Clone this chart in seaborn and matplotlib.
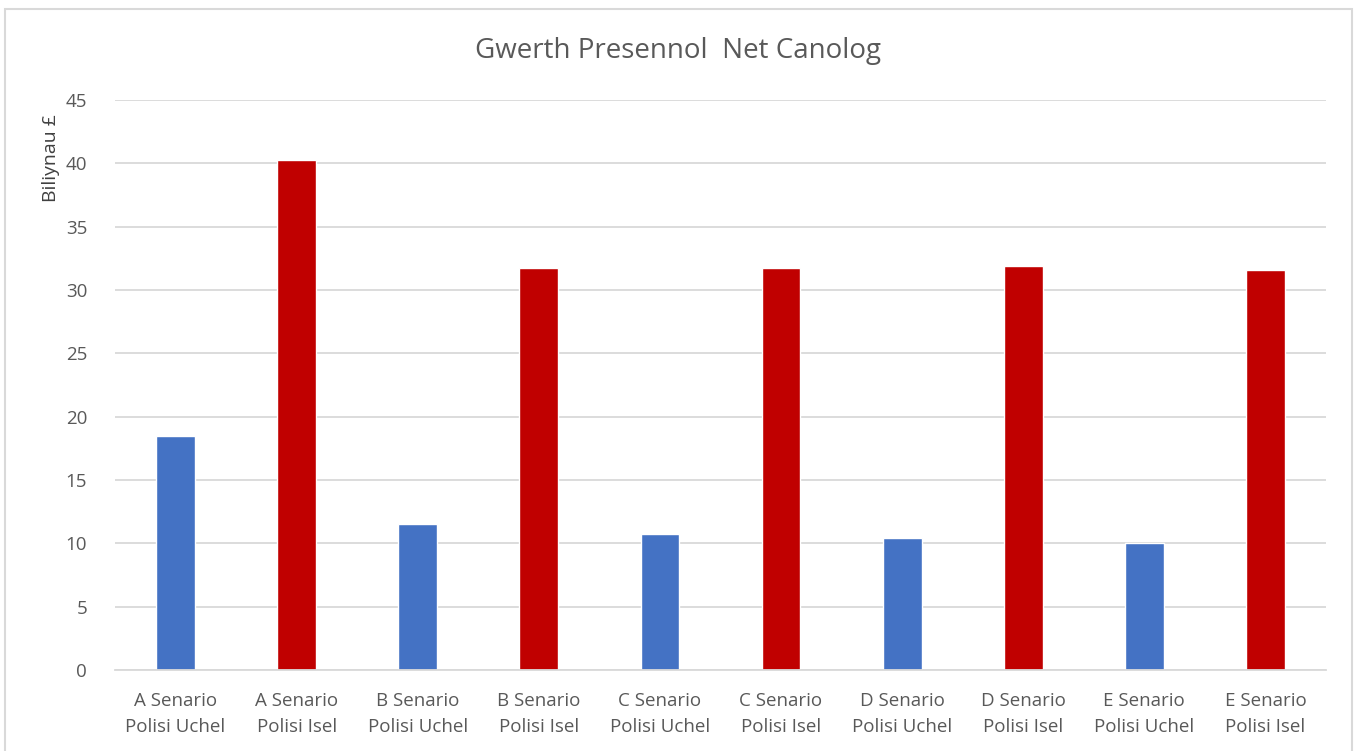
import matplotlib
matplotlib.use("Agg")
import matplotlib.pyplot as plt
import seaborn as sns
from matplotlib.patches import Rectangle

categories = ["A Senario\nPolisi Uchel", "A Senario\nPolisi Isel",
              "B Senario\nPolisi Uchel", "B Senario\nPolisi Isel",
              "C Senario\nPolisi Uchel", "C Senario\nPolisi Isel",
              "D Senario\nPolisi Uchel", "D Senario\nPolisi Isel",
              "E Senario\nPolisi Uchel", "E Senario\nPolisi Isel"]
values = [18.5, 40.25, 11.55, 31.76, 10.7, 31.76, 10.45, 31.9, 10.05, 31.55]
bar_colors = ["#4472C4", "#C00000"] * 5
y_ticks = [0, 5, 10, 15, 20, 25, 30, 35, 40, 45]
title = "Gwerth Presennol  Net Canolog"
y_label = "Biliynau £"

sns.set_theme(style="white")
plt.rcParams['font.family'] = ['Open Sans', 'DejaVu Sans']

fig = plt.figure(figsize=(13.56, 7.51), dpi=100)
ax = fig.add_axes([115/1356, 1 - 670/751, (1326-115)/1356, (670-100)/751])

sns.barplot(x=categories, y=values, hue=categories, palette=bar_colors,
            width=0.32, legend=False, ax=ax, saturation=1)

ax.set_ylim(0, 45)
ax.set_xlim(-0.5, 9.5)
ax.set_yticks(y_ticks)
ax.set_yticklabels([str(t) for t in y_ticks])
ax.grid(axis='y', color='#d9d9d9', linewidth=1.3)
ax.set_axisbelow(True)
for s in ['top', 'right', 'left']:
    ax.spines[s].set_visible(False)
ax.spines['bottom'].set_color('#d9d9d9')
ax.spines['bottom'].set_linewidth(1.3)
ax.tick_params(axis='both', length=0, labelsize=13.5, colors='#595959')
ax.tick_params(axis='x', pad=16)
ax.tick_params(axis='y', pad=20)
for lbl in ax.get_xticklabels():
    lbl.set_linespacing(1.55)
ax.set_xlabel("")
ax.set_ylabel(y_label, fontsize=14, color='#404040')
ax.yaxis.set_label_coords((60 - 115) / 1211, (670 - 158) / 570)
fig.text(0.5, 1 - 51/751, title, fontsize=20, color='#595959',
         ha='center', va='center')

fig.patches.append(Rectangle((5/1356, -0.1), (1352-5)/1356, 1 - 9/751 + 0.1,
                             transform=fig.transFigure, fill=False,
                             edgecolor='#d9d9d9', linewidth=1.5))

fig.savefig("out.png", dpi=100)
